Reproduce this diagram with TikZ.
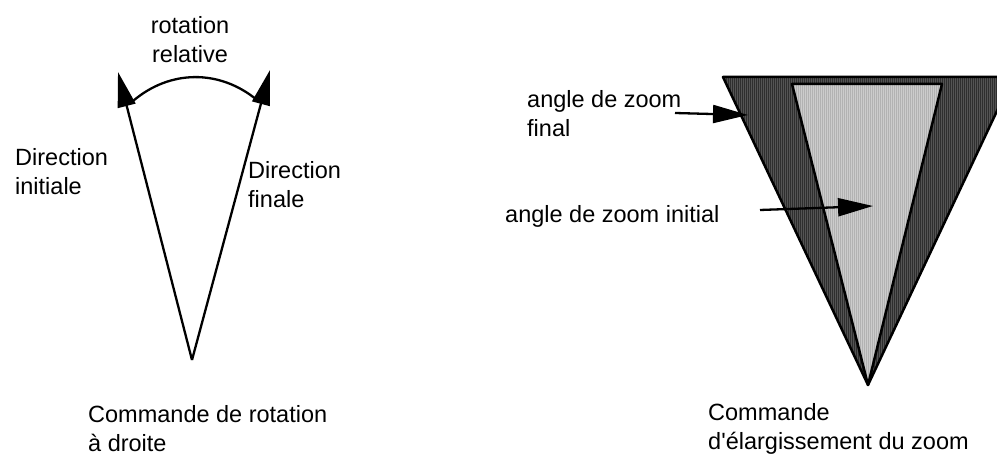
\documentclass[tikz,border=0pt]{standalone}
\usepackage{fontspec}
\newfontfamily\labelfont{Liberation Sans}
\usetikzlibrary{arrows.meta,patterns.meta}

\begin{document}
\begin{tikzpicture}[x=1pt, y=1pt,
    every node/.style={font=\labelfont\fontsize{23.5}{29.5}\selectfont, inner sep=0pt},
    caption/.style={anchor=base west, align=left},
    dir arrow/.style={line width=2.3pt, -{Triangle[length=35pt, width=18pt]}},
    wide zone/.style={line width=2.5pt, line join=round,
        preaction={fill=black!67},
        preaction={pattern={Lines[angle=90, distance=2pt, line width=0.9pt]}, pattern color=black!82}},
    narrow zone/.style={line width=2.5pt, line join=round,
        preaction={fill=black!20},
        preaction={pattern={Lines[angle=90, distance=2pt, line width=0.9pt]}, pattern color=black!30}}]
    \clip (0,0) rectangle (997,455);

    % rotation
    \coordinate (pivot) at (192,95);
    \coordinate (initial tip) at (118,383);
    \coordinate (final tip) at (270,385);
    \coordinate (arc start) at (133,354);
    \coordinate (arc end) at (257,355);
    \draw[dir arrow] (pivot) -- (initial tip);
    \draw[dir arrow] (pivot) -- (final tip);
    \draw[line width=2.3pt] (arc start) to[bend left=40] (arc end);

    % captions sit on the baseline of their last line
    \node[anchor=base, align=center] (relative) at (190,392) {rotation\\relative};
    \node[caption] (initial dir) at (15,260) {Direction\\initiale};
    \node[caption] (final dir) at (248,247) {Direction\\finale};
    \node[caption] (rotate cmd) at (88,3) {Commande de rotation\\à droite};

    % zoom
    \coordinate (zoom apex) at (868,70);
    \coordinate (wide left) at (723,378);
    \coordinate (wide right) at (1013,378);
    \coordinate (narrow left) at (792,371);
    \coordinate (narrow right) at (942,371);
    \draw[wide zone] (wide left) -- (wide right) -- (zoom apex) -- cycle;
    \draw[narrow zone] (narrow left) -- (narrow right) -- (zoom apex) -- cycle;

    \node[caption] (final angle) at (527,318) {angle de zoom\\final};
    \node[caption] (initial angle) at (505,232) {angle de zoom initial};
    \node[caption] (zoom cmd) at (708,5) {Commande\\d'élargissement du zoom};

    \coordinate (final from) at (675,342);
    \coordinate (final to) at (748,340);
    \coordinate (initial from) at (760,245);
    \coordinate (initial to) at (873,249);
    \draw[dir arrow] (final from) -- (final to);
    \draw[dir arrow] (initial from) -- (initial to);
\end{tikzpicture}
\end{document}
